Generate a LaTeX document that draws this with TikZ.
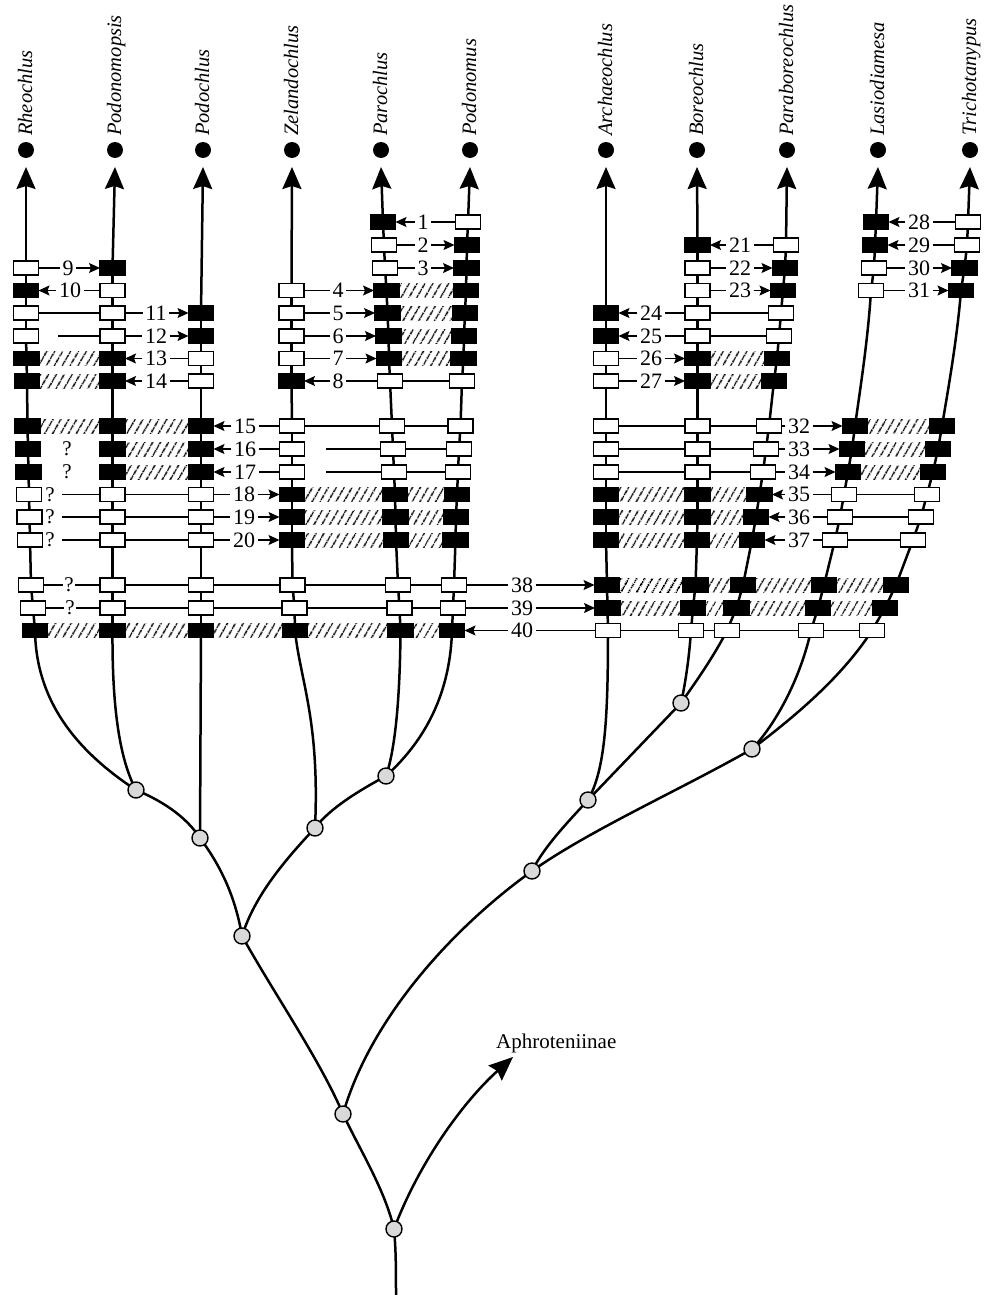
\documentclass[tikz,border=0pt]{standalone}
\usepackage{fontspec}
\setmainfont{Liberation Serif}
\usetikzlibrary{arrows.meta,patterns.meta,backgrounds}
\colorlet{W}{white}
\colorlet{K}{black}
\def\YY{{0,222,245,268,290.5,313,336,358.5,381,426,449,472,494.5,517,540,585,608,630.5}}
\newcommand\boxes[2]{\foreach \r/\x/\t in {#2}{\pgfmathsetmacro\yy{\YY[\r]}\node[boxw,fill=\t] (#1\r) at (\x,\yy) {};}}
\newcommand\colrange[3]{\foreach \a in {#2,...,#3}{\pgfmathtruncatemacro\b{\a+1}\draw[col] (#1\a.center) -- (#1\b.center);}}
\newcommand\toR[4]{\node[lab] (k#2) at (#3,0 |- #1) {#2};\draw[conn] (#1.east) -- (k#2.west);\draw[conn,arr] (k#2.east) -- (#4.west);}
\newcommand\toL[4]{\node[lab] (k#2) at (#3,0 |- #4) {#2};\draw[conn,arr] (k#2.west) -- (#1.east);\draw[conn] (#4.west) -- (k#2.east);}
\newcommand\cnx[2]{\draw[conn] (#1.east) -- (#2.west);}
\newcommand\htc[2]{\path[hatch] (#1.north east) rectangle (#2.south west);}
\begin{document}
\begin{tikzpicture}[x=1pt,y=-1pt,
  boxw/.style={draw,line width=1.5pt,fill=white,minimum width=25pt,minimum height=14pt,inner sep=0pt,outer sep=0pt},
  col/.style={line width=2.5pt,line cap=round},
  conn/.style={line width=1.1pt},
  arr/.style={-{Stealth[length=11pt,width=10pt,inset=2pt]}},
  toparr/.style={line width=2.5pt,-{Stealth[length=22pt,width=19pt,inset=3pt]}},
  hatch/.style={pattern={Lines[angle=60,distance=6.5pt,line width=1.5pt]}},
  lab/.style={font=\fontsize{22}{22}\selectfont,inner sep=2.5pt},
  qm/.style={font=\fontsize{21}{21}\selectfont,inner sep=1.5pt},
  taxon/.style={font=\fontsize{20.5}{21}\selectfont\itshape,rotate=90,anchor=base west,inner sep=0pt},
  tdot/.style={circle,fill=black,minimum size=16pt,inner sep=0pt},
  inode/.style={circle,draw,line width=1.4pt,fill=gray!30,minimum size=16pt,inner sep=0pt}
]
\useasboundingbox (0,0) rectangle (987,1295);

% character state boxes
\boxes{R}{3/26/W,4/26/K,5/26/W,6/26/W,7/26.5/K,8/27/K,9/27.5/K,10/28/K,11/28.5/K,12/29/W,13/29.5/W,14/30/W,15/31/W,16/33/W,17/35/K}
\boxes{Pm}{3/112.5/K,4/112.5/W,5/112.5/W,6/112.5/W,7/112.5/K,8/112.5/K,9/112.5/K,10/112.5/K,11/112.5/K,12/112.5/W,13/112.5/W,14/112.5/W,15/112.5/W,16/112.5/W,17/112.5/K}
\boxes{Pc}{5/201/K,6/201/K,7/201/W,8/201/W,9/201/K,10/201/K,11/201/K,12/201/W,13/201/W,14/201/W,15/201/W,16/201/W,17/201/K}
\boxes{Z}{4/291.5/W,5/291.5/W,6/291.5/W,7/291.5/W,8/291.5/K,9/292/W,10/292/W,11/292/W,12/292/K,13/292/K,14/292/K,15/292.5/W,16/294.5/W,17/295/K}
\boxes{Pa}{1/383/K,2/384/W,3/385/W,4/386.5/K,5/387.5/K,6/388.5/K,7/389/K,8/390/W,9/392/W,10/393/W,11/394/W,12/395/K,13/395.5/K,14/396/K,15/398/W,16/399.5/W,17/400.5/K}
\boxes{Pn}{1/468/W,2/467/K,3/466.5/K,4/466/K,5/465/K,6/464/K,7/463.5/K,8/462/W,9/460.5/W,10/459/W,11/458/W,12/457/K,13/456/K,14/455.5/K,15/454/W,16/453/W,17/452/K}
\boxes{A}{5/606/K,6/606/K,7/606/W,8/606/W,9/606/W,10/606/W,11/606/W,12/606/K,13/606/K,14/606/K,15/607/K,16/607.5/K,17/608/W}
\boxes{B}{2/697.5/K,3/697.5/W,4/697.5/W,5/697.5/W,6/697.5/W,7/697.5/K,8/697.5/K,9/697.5/W,10/697.5/W,11/697.5/W,12/697.5/K,13/697.5/K,14/697/K,15/695.5/K,16/693/K,17/691/W}
\boxes{Pb}{2/786/W,3/785/K,4/783/K,5/781/W,6/779/W,7/777/K,8/774/K,9/769/W,10/766/W,11/763/W,12/759.5/K,13/756/K,14/752/K,15/743/K,16/736.5/K,17/727/W}
\boxes{L}{1/876/K,2/875/K,3/874/W,4/871/W,9/855/K,10/852/K,11/848/K,12/844/W,13/840/W,14/835/W,15/824/K,16/818/K,17/811/W}
\boxes{T}{1/968/W,2/967/W,3/964.5/K,4/961/K,9/942/K,10/938/K,11/933/K,12/927/W,13/921/W,14/913/W,15/896/K,16/885/K,17/872/W}

% taxa
\foreach \n/\x/\txt in {R/26/Rheochlus,Pm/115/Podonomopsis,Pc/203/Podochlus,Z/292/Zelandochlus,Pa/381/Parochlus,Pn/470/Podonomus,A/606/Archaeochlus,B/697/Boreochlus,Pb/787/Paraboreochlus,L/878/Lasiodiamesa,T/970/Trichotanypus}{
  \node[tdot] (d\n) at (\x,150) {};
  \node[taxon] (t\n) at (\x+6,136) {\txt};
  \coordinate (a\n) at (\x,167);
}

% internal nodes
\node[inode] (n1) at (136,790) {};
\node[inode] (n2) at (200,838) {};
\node[inode] (n3) at (386,776) {};
\node[inode] (n4) at (315,828) {};
\node[inode] (n5) at (242,936) {};
\node[inode] (n6) at (681,703) {};
\node[inode] (n7) at (588,800) {};
\node[inode] (n8) at (752,749) {};
\node[inode] (n9) at (532,871) {};
\node[inode] (n10) at (343,1114) {};
\node[inode] (n11) at (394,1229) {};
\coordinate (atip) at (513,1057);
\coordinate (root) at (396,1300);
\node[font=\fontsize{21}{21}\selectfont,anchor=base west,inner sep=0pt] (aph) at (496,1048) {Aphroteniinae};

\begin{pgfonlayer}{background}
  \colrange{R}{3}{16}
  \colrange{Pm}{3}{16}
  \colrange{Pc}{5}{16}
  \colrange{Z}{4}{16}
  \colrange{Pa}{1}{16}
  \colrange{Pn}{1}{16}
  \colrange{A}{5}{16}
  \colrange{B}{2}{16}
  \colrange{Pb}{2}{16}
  \colrange{L}{1}{3}
  \draw[col] (L4.center) .. controls (868,340) and (860,390) .. (L9.center);
  \colrange{L}{9}{16}
  \colrange{T}{1}{3}
  \draw[col] (T4.center) .. controls (957,340) and (948,390) .. (T9.center);
  \colrange{T}{9}{16}
  % top arrows
  \draw[toparr] (R3.center) -- (aR);
  \draw[toparr] (Pm3.center) -- (aPm);
  \draw[toparr] (Pc5.center) -- (aPc);
  \draw[toparr] (Z4.center) -- (aZ);
  \draw[toparr] (Pa1.center) -- (aPa);
  \draw[toparr] (Pn1.center) -- (aPn);
  \draw[toparr] (A5.center) -- (aA);
  \draw[toparr] (B2.center) -- (aB);
  \draw[toparr] (Pb2.center) -- (aPb);
  \draw[toparr] (L1.center) -- (aL);
  \draw[toparr] (T1.center) -- (aT);
  % tree
  \draw[col] (R17.center) .. controls (36,700) and (75,750) .. (n1.center);
  \draw[col] (Pm17.center) .. controls (112,710) and (120,760) .. (n1.center);
  \draw[col] (Pc17.center) -- (n2.center);
  \draw[col] (n1.center) .. controls (160,800) and (185,815) .. (n2.center);
  \draw[col] (n2.center) .. controls (220,865) and (235,895) .. (n5.center);
  \draw[col] (Z17.center) .. controls (300,680) and (320,720) .. (n4.center);
  \draw[col] (Pa17.center) .. controls (400,700) and (395,750) .. (n3.center);
  \draw[col] (Pn17.center) .. controls (450,700) and (420,745) .. (n3.center);
  \draw[col] (n3.center) .. controls (360,790) and (330,808) .. (n4.center);
  \draw[col] (n4.center) .. controls (285,860) and (255,895) .. (n5.center);
  \draw[col] (n5.center) .. controls (275,995) and (320,1060) .. (n10.center);
  \draw[col] (A17.center) .. controls (608,720) and (605,770) .. (n7.center);
  \draw[col] (B17.center) .. controls (689,660) and (685,685) .. (n6.center);
  \draw[col] (Pb17.center) .. controls (712,660) and (690,690) .. (n6.center);
  \draw[col] (n6.center) -- (n7.center);
  \draw[col] (L17.center) .. controls (800,680) and (775,725) .. (n8.center);
  \draw[col] (T17.center) .. controls (840,680) and (790,720) .. (n8.center);
  \draw[col] (n7.center) .. controls (570,820) and (545,845) .. (n9.center);
  \draw[col] (n8.center) .. controls (680,790) and (590,830) .. (n9.center);
  \draw[col] (n9.center) .. controls (450,930) and (370,1020) .. (n10.center);
  \draw[col] (n10.center) .. controls (360,1150) and (385,1190) .. (n11.center);
  \draw[line width=2.5pt,-{Stealth[length=24pt,width=20pt,inset=3pt]}] (n11.center) .. controls (420,1160) and (465,1100) .. (atip);
  \draw[col] (n11.center) .. controls (396,1250) and (396,1270) .. (root);
\end{pgfonlayer}

% row 1
\toL{Pa1}{1}{423}{Pn1}
\toL{L1}{28}{919}{T1}
% row 2
\toR{Pa2}{2}{423}{Pn2}
\toL{B2}{21}{740}{Pb2}
\toL{L2}{29}{919}{T2}
% row 3
\toR{R3}{9}{68}{Pm3}
\toR{Pa3}{3}{423}{Pn3}
\toR{B3}{22}{740}{Pb3}
\toR{L3}{30}{919}{T3}
% row 4
\toL{R4}{10}{70}{Pm4}
\toR{Z4}{4}{338}{Pa4}
\htc{Pa4}{Pn4}
\toR{B4}{23}{740}{Pb4}
\toR{L4}{31}{919}{T4}
% row 5
\cnx{R5}{Pm5}
\toR{Pm5}{11}{156}{Pc5}
\toR{Z5}{5}{338}{Pa5}
\htc{Pa5}{Pn5}
\toL{A5}{24}{651}{B5}
\cnx{B5}{Pb5}
% row 6
\coordinate (s6) at (58,336);
\draw[conn] (s6) -- (Pm6.west);
\toR{Pm6}{12}{156}{Pc6}
\toR{Z6}{6}{338}{Pa6}
\htc{Pa6}{Pn6}
\toL{A6}{25}{651}{B6}
\cnx{B6}{Pb6}
% row 7
\htc{R7}{Pm7}
\toL{Pm7}{13}{156}{Pc7}
\toR{Z7}{7}{338}{Pa7}
\htc{Pa7}{Pn7}
\toR{A7}{26}{651}{B7}
\htc{B7}{Pb7}
% row 8
\htc{R8}{Pm8}
\toL{Pm8}{14}{156}{Pc8}
\toL{Z8}{8}{338}{Pa8}
\cnx{Pa8}{Pn8}
\toR{A8}{27}{651}{B8}
\htc{B8}{Pb8}
% row 9
\htc{R9}{Pm9}
\htc{Pm9}{Pc9}
\toL{Pc9}{15}{245}{Z9}
\cnx{Z9}{Pa9}
\cnx{Pa9}{Pn9}
\cnx{A9}{B9}
\cnx{B9}{Pb9}
\toR{Pb9}{32}{799}{L9}
\htc{L9}{T9}
% rows 10, 11
\node[qm] (q10) at (67,449) {?};
\node[qm] (q11) at (67,472) {?};
\htc{Pm10}{Pc10}
\htc{Pm11}{Pc11}
\toL{Pc10}{16}{245}{Z10}
\toL{Pc11}{17}{245}{Z11}
\coordinate (s10) at (326,449);
\coordinate (s11) at (326,472);
\draw[conn] (s10) -- (Pa10.west);
\draw[conn] (s11) -- (Pa11.west);
\cnx{Pa10}{Pn10}
\cnx{Pa11}{Pn11}
\cnx{A10}{B10}
\cnx{A11}{B11}
\cnx{B10}{Pb10}
\cnx{B11}{Pb11}
\toR{Pb10}{33}{799}{L10}
\toR{Pb11}{34}{799}{L11}
\htc{L10}{T10}
\htc{L11}{T11}
% rows 12-14
\node[qm] (q12) at (50,494.5) {?};
\node[qm] (q13) at (50,517) {?};
\node[qm] (q14) at (50,540) {?};
\coordinate (s12) at (62,494.5);
\coordinate (s13) at (62,517);
\coordinate (s14) at (62,540);
\draw[conn] (s12) -- (Pm12.west);
\draw[conn] (s13) -- (Pm13.west);
\draw[conn] (s14) -- (Pm14.west);
\cnx{Pm12}{Pc12}
\cnx{Pm13}{Pc13}
\cnx{Pm14}{Pc14}
\toR{Pc12}{18}{244}{Z12}
\toR{Pc13}{19}{244}{Z13}
\toR{Pc14}{20}{244}{Z14}
\htc{Z12}{Pa12}
\htc{Z13}{Pa13}
\htc{Z14}{Pa14}
\htc{Pa12}{Pn12}
\htc{Pa13}{Pn13}
\htc{Pa14}{Pn14}
\htc{A12}{B12}
\htc{A13}{B13}
\htc{A14}{B14}
\htc{B12}{Pb12}
\htc{B13}{Pb13}
\htc{B14}{Pb14}
\toL{Pb12}{35}{799}{L12}
\toL{Pb13}{36}{799}{L13}
\toL{Pb14}{37}{799}{L14}
\cnx{L12}{T12}
\cnx{L13}{T13}
\cnx{L14}{T14}
% rows 15, 16
\node[qm] (q15) at (69,585) {?};
\node[qm] (q16) at (70,608) {?};
\draw[conn] (R15.east) -- (q15.west);
\draw[conn] (q15.east) -- (Pm15.west);
\draw[conn] (R16.east) -- (q16.west);
\draw[conn] (q16.east) -- (Pm16.west);
\cnx{Pm15}{Pc15}
\cnx{Pm16}{Pc16}
\cnx{Pc15}{Z15}
\cnx{Pc16}{Z16}
\cnx{Z15}{Pa15}
\cnx{Z16}{Pa16}
\cnx{Pa15}{Pn15}
\cnx{Pa16}{Pn16}
\toR{Pn15}{38}{522}{A15}
\toR{Pn16}{39}{522}{A16}
\htc{A15}{B15}
\htc{A16}{B16}
\htc{B15}{Pb15}
\htc{B16}{Pb16}
\htc{Pb15}{L15}
\htc{Pb16}{L16}
\htc{L15}{T15}
\htc{L16}{T16}
% row 17
\htc{R17}{Pm17}
\htc{Pm17}{Pc17}
\htc{Pc17}{Z17}
\htc{Z17}{Pa17}
\htc{Pa17}{Pn17}
\toL{Pn17}{40}{522}{A17}
\cnx{A17}{B17}
\cnx{B17}{Pb17}
\cnx{Pb17}{L17}
\cnx{L17}{T17}
\end{tikzpicture}
\end{document}
